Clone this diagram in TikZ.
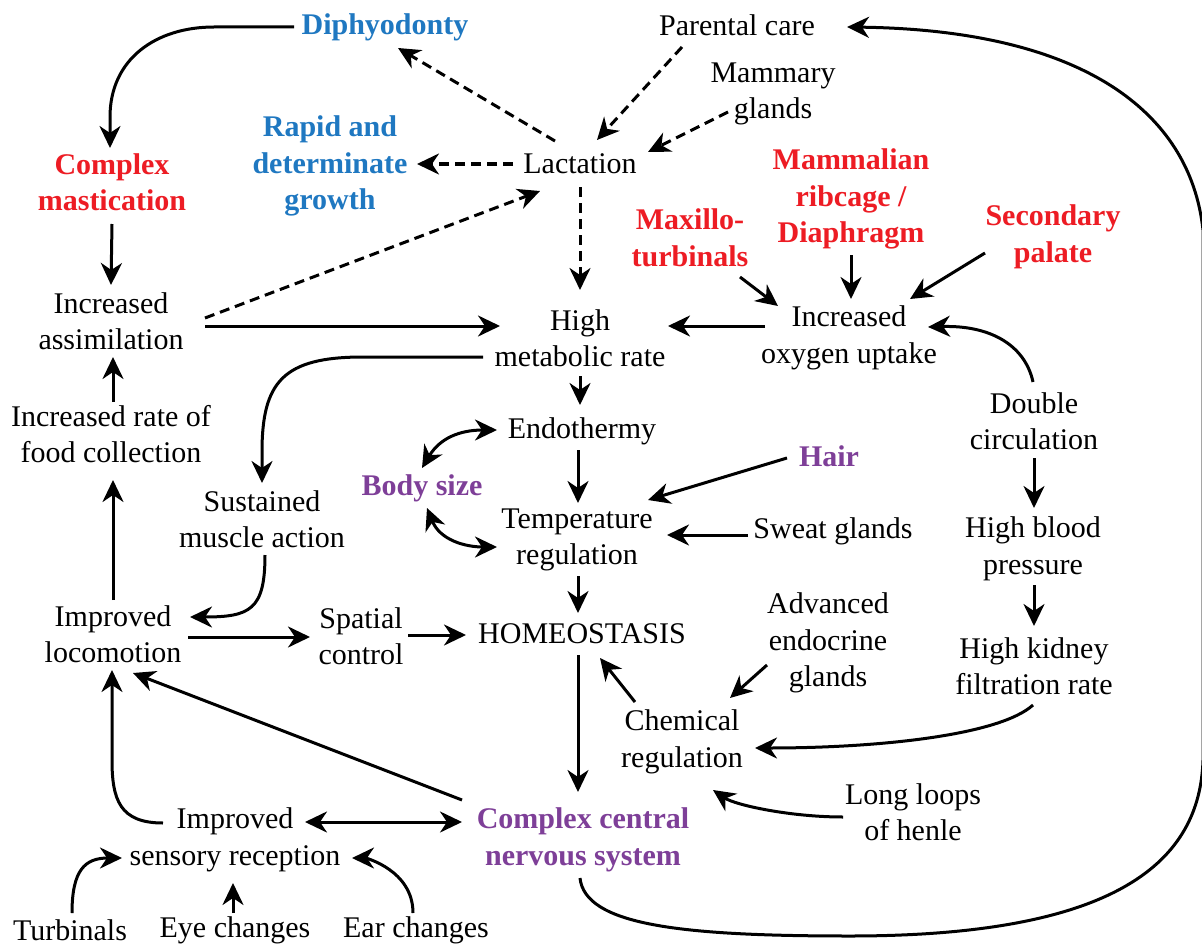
\documentclass[tikz,border=0pt]{standalone}
\usepackage{fontspec}
\setmainfont{Liberation Serif}
\usetikzlibrary{arrows.meta}
\definecolor{cblue}{HTML}{1F78C1}
\definecolor{cred}{HTML}{ED1C24}
\definecolor{cpurp}{HTML}{7E3F98}
\tikzset{
  lbl/.style={font=\fontsize{30}{36.5}\selectfont, align=center, inner sep=0pt},
  blu/.style={lbl, font=\fontsize{30}{36.5}\selectfont\bfseries, text=cblue},
  rd/.style={lbl, font=\fontsize{30}{36.5}\selectfont\bfseries, text=cred},
  pu/.style={lbl, font=\fontsize{30}{36.5}\selectfont\bfseries, text=cpurp},
  arr/.style={line width=3pt, -{Stealth[length=22pt,width=21pt,inset=7pt]}},
  darr/.style={line width=3pt, {Stealth[length=22pt,width=21pt,inset=7pt]}-{Stealth[length=22pt,width=21pt,inset=7pt]}},
  dsh/.style={arr, dash pattern=on 10pt off 6pt},
}
\begin{document}
\begin{tikzpicture}[x=1pt,y=-1pt]
\useasboundingbox[fill=white] (0,0) rectangle (1202,947);
% nodes
\node[blu] (dip) at (385,27) {Diphyodonty};
\node[lbl] (par) at (737,25) {Parental care};
\node[lbl] (mam) at (773,94) {Mammary\\glands};
\node[blu] (rap) at (330,166) {Rapid and\\determinate\\growth};
\node[rd] (cmast) at (112,182) {Complex\\mastication};
\node[lbl] (lact) at (580,164) {Lactation};
\node[rd] (rib) at (851,199) {Mammalian\\ribcage /\\Diaphragm};
\node[rd] (maxt) at (690,238) {Maxillo-\\turbinals};
\node[rd] (sec) at (1053,237) {Secondary\\palate};
\node[lbl] (iass) at (111,321) {Increased\\assimilation};
\node[lbl] (hmr) at (580,338) {High\\metabolic rate};
\node[lbl] (iox) at (849,338) {Increased\\oxygen uptake};
\node[lbl] (irf) at (111,434) {Increased rate of\\food collection};
\node[lbl] (endo) at (582,431) {Endothermy};
\node[lbl] (dbl) at (1034,421) {Double\\circulation};
\node[pu] (hair) at (829,456) {Hair};
\node[pu] (body) at (422,488) {Body size};
\node[lbl] (sma) at (262,519) {Sustained\\muscle action};
\node[lbl] (treg) at (577,540) {Temperature\\regulation};
\node[lbl] (sweat) at (833,531) {Sweat glands};
\node[lbl] (hbp) at (1033,549) {High blood\\pressure};
\node[lbl] (iloc) at (113,634) {Improved\\locomotion};
\node[lbl] (spat) at (361,636) {Spatial\\control};
\node[lbl] (homeo) at (582,634) {HOMEOSTASIS};
\node[lbl] (adv) at (828,643) {Advanced\\endocrine\\glands};
\node[lbl] (hkf) at (1034,666) {High kidney\\filtration rate};
\node[lbl] (chem) at (682,742) {Chemical\\regulation};
\node[lbl] (loops) at (913,812) {Long loops\\of henle};
\node[lbl] (isr) at (235,840) {Improved\\sensory reception};
\node[pu] (ccns) at (583,840) {Complex central\\nervous system};
\node[lbl] (turb) at (70,930) {Turbinals};
\node[lbl] (eye) at (235,930) {Eye changes};
\node[lbl] (ear) at (416,930) {Ear changes};
% dashed connectors
\draw[dsh] ([shift={(-25,-23)}]lact.center) -- ([shift={(13,21)}]dip.center);
\draw[dsh] ([shift={(-67,0)}]lact.center) -- ([shift={(87,-2)}]rap.center);
\draw[dsh] ([shift={(-55,22)}]par.center) -- ([shift={(17,-24)}]lact.center);
\draw[dsh] ([shift={(-45,18)}]mam.center) -- ([shift={(68,-12)}]lact.center);
\draw[dsh] ([shift={(0,23)}]lact.center) -- ([shift={(0,-48)}]hmr.center);
\draw[dsh] ([shift={(94,-3)}]iass.center) -- ([shift={(-40,27)}]lact.center);
% solid connectors
\draw[arr] ([shift={(-91,0)}]dip.center) -- ++(-80,0)
   .. controls +(-58,0) and +(0,-58) .. ++(-104,90) -- ([shift={(-2,-34)}]cmast.center);
\draw[arr] ([shift={(0,42)}]cmast.center) -- ([shift={(0,-36)}]iass.center);
\draw[arr] ([shift={(94,5)}]iass.center) -- ([shift={(-80,-12)}]hmr.center);
\draw[arr] ([shift={(-84,-12)}]iox.center) -- ([shift={(88,-12)}]hmr.center);
\draw[arr] ([shift={(50,39)}]maxt.center) -- ([shift={(-71,-32)}]iox.center);
\draw[arr] ([shift={(0,56)}]rib.center) -- ([shift={(2,-39)}]iox.center);
\draw[arr] ([shift={(-68,16)}]sec.center) -- ([shift={(61,-39)}]iox.center);
\draw[arr] ([shift={(-1,-39)}]dbl.center) .. controls +(-8,-37) and +(62,-2) .. ([shift={(79,-11)}]iox.center);
\draw[arr] ([shift={(0,38)}]hmr.center) -- ([shift={(-2,-26)}]endo.center);
\draw[arr] ([shift={(-97,19)}]hmr.center) -- ++(-120,0)
   .. controls +(-80,0) and +(0,-70) .. ++(-101,95) -- ([shift={(0,-36)}]sma.center);
\draw[darr] ([shift={(0,-20)}]body.center) .. controls +(18,-30) and +(-37,0) .. ([shift={(-85,-1)}]endo.center);
\draw[darr] ([shift={(5,20)}]body.center) .. controls +(13,32) and +(-32,0) .. ([shift={(-80,7)}]treg.center);
\draw[arr] ([shift={(-4,19)}]endo.center) -- ([shift={(1,-37)}]treg.center);
\draw[arr] ([shift={(-42,2)}]hair.center) -- ([shift={(71,-40)}]treg.center);
\draw[arr] ([shift={(-85,4)}]sweat.center) -- ([shift={(90,-5)}]treg.center);
\draw[arr] ([shift={(1,36)}]treg.center) -- ([shift={(-4,-21)}]homeo.center);
\draw[arr] ([shift={(0,37)}]dbl.center) -- ([shift={(1,-41)}]hbp.center);
\draw[arr] ([shift={(1,36)}]hbp.center) -- ([shift={(0,-40)}]hkf.center);
\draw[arr] ([shift={(-1,39)}]hkf.center) .. controls +(-33,30) and +(125,0) .. ([shift={(73,6)}]chem.center);
\draw[arr] ([shift={(-61,22)}]adv.center) -- ([shift={(48,-44)}]chem.center);
\draw[arr] ([shift={(-47,-40)}]chem.center) -- ([shift={(18,24)}]homeo.center);
\draw[arr] ([shift={(-70,5)}]loops.center) .. controls +(-53,0) and +(22,15) .. ([shift={(31,48)}]chem.center);
\draw[arr] ([shift={(-4,21)}]homeo.center) -- ([shift={(-5,-48)}]ccns.center);
\draw[arr] ([shift={(3,36)}]sma.center) .. controls +(0,55) and +(60,0) .. ([shift={(77,-17)}]iloc.center);
\draw[arr] ([shift={(75,3)}]iloc.center) -- ([shift={(-51,1)}]spat.center);
\draw[arr] ([shift={(47,-1)}]spat.center) -- ([shift={(-116,1)}]homeo.center);
\draw[arr] ([shift={(0,-34)}]iloc.center) -- ([shift={(2,46)}]irf.center);
\draw[arr] ([shift={(2,-32)}]irf.center) -- ([shift={(2,36)}]iass.center);
\draw[arr] ([shift={(-121,-40)}]ccns.center) -- ([shift={(20,39)}]iloc.center);
\draw[arr] ([shift={(-72,-17)}]isr.center) .. controls +(-43,0) and +(0,40) .. ([shift={(-123,-80)}]isr.center) -- ([shift={(-1,36)}]iloc.center);
\draw[darr] ([shift={(70,-18)}]isr.center) -- ([shift={(-121,-18)}]ccns.center);
\draw[arr] ([shift={(2,-17)}]turb.center) .. controls +(0,-43) and +(-37,0) .. ([shift={(-113,18)}]isr.center);
\draw[arr] ([shift={(-2,-17)}]eye.center) -- ([shift={(-2,43)}]isr.center);
\draw[arr] ([shift={(-3,-17)}]ear.center) .. controls +(0,-43) and +(13,0) .. ([shift={(117,18)}]isr.center);
\draw[arr] ([shift={(-3,38)}]ccns.center) .. controls +(5,47) and +(-170,0) .. (850,936)
   .. controls (1120,936) and (1200,860) .. (1203,760) -- (1203,230)
   .. controls (1190,110) and (1080,30) .. ([shift={(110,2)}]par.center);
\end{tikzpicture}
\end{document}
